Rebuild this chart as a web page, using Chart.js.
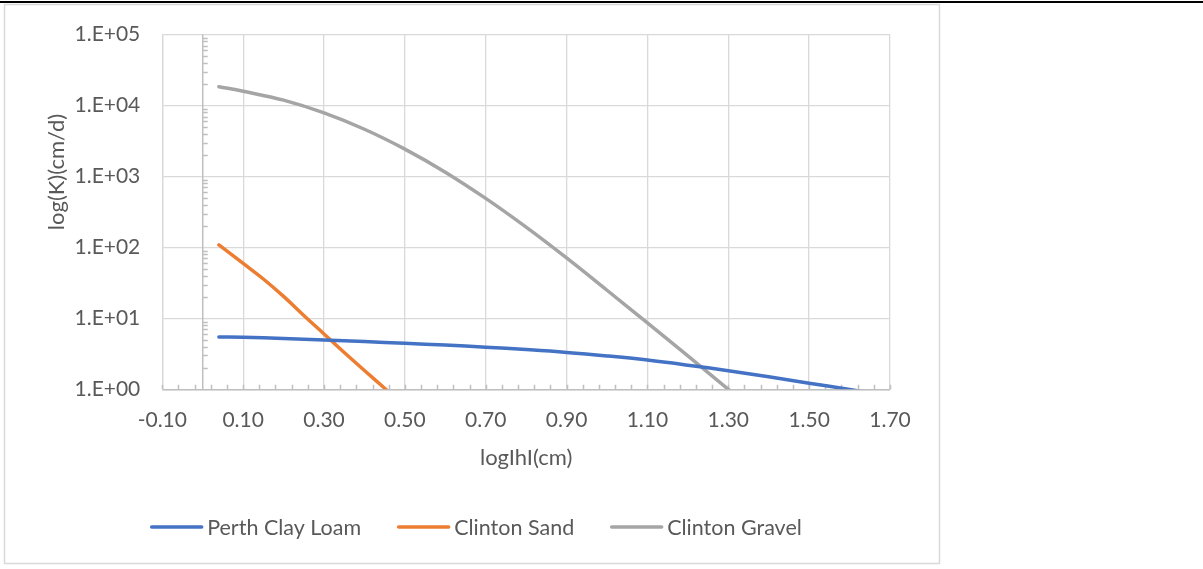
<!DOCTYPE html>
<html>
<head>
<meta charset="utf-8">
<title>Hydraulic conductivity vs. suction head</title>
<script src="https://cdn.jsdelivr.net/npm/chart.js@4.4.1/dist/chart.umd.min.js"></script>
<style>
  html, body { margin: 0; padding: 0; background: #ffffff; }
  #wrap { position: relative; width: 1203px; height: 569px; }
  canvas { display: block; }
</style>
</head>
<body>
<div id="wrap"><canvas id="chart" width="1203" height="569"></canvas></div>
<script>
// Axis tick values
const xTicks = [-0.10, 0.10, 0.30, 0.50, 0.70, 0.90, 1.10, 1.30, 1.50, 1.70];
const yTicks = [1, 10, 100, 1000, 10000, 100000];

// Perth Clay Loam: log|h| (cm) and K (cm/d)
const perthX = [0.04, 0.10, 0.20, 0.30, 0.40, 0.50, 0.60, 0.70, 0.80, 0.90, 1.00, 1.10, 1.20, 1.30, 1.40, 1.50, 1.60, 1.66];
const perthK = [5.46, 5.41, 5.19, 4.94, 4.70, 4.46, 4.20, 3.93, 3.63, 3.31, 2.95, 2.58, 2.19, 1.83, 1.50, 1.22, 0.995, 0.87];

// Clinton Sand
const sandX = [0.04, 0.10, 0.15, 0.20, 0.25, 0.30, 0.35, 0.40, 0.45, 0.50];
const sandK = [108.4, 59.6, 35.9, 20.4, 11.0, 6.03, 3.31, 1.84, 1.035, 0.58];

// Clinton Gravel
const gravelX = [0.04, 0.10, 0.20, 0.30, 0.40, 0.50, 0.60, 0.70, 0.80, 0.90, 1.00, 1.10, 1.20, 1.30, 1.35];
const gravelK = [18450, 15890, 11910, 7870, 4634, 2432, 1151, 491, 193, 71.0, 24.9, 8.63, 2.96, 1.0, 0.58];

const seriesNames = ['Perth Clay Loam', 'Clinton Sand', 'Clinton Gravel'];
const seriesColors = ['#4472C4', '#ED7D31', '#A5A5A5'];
const xTitle = 'logIhI(cm)';
const yTitle = 'log(K)(cm/d)';

const TEXT = '#595959';
const GRID = '#d9d9d9';
const AXIS = '#bfbfbf';
const FONT = 'Lato, "Open Sans", sans-serif';

Chart.defaults.font.family = FONT;
Chart.defaults.font.size = 21;
Chart.defaults.color = TEXT;

const pts = (xs, ys) => xs.map((x, i) => ({ x: x, y: ys[i] }));

function sci(v) {
  const e = Math.round(Math.log10(v));
  const m = v / Math.pow(10, e);
  const sign = e < 0 ? '-' : '+';
  return Math.round(m) + '.E' + sign + String(Math.abs(e)).padStart(2, '0');
}

// White page, dark rule along the top and the light chart frame
const framePlugin = {
  id: 'frame',
  beforeDraw(chart) {
    const c = chart.ctx;
    c.save();
    c.fillStyle = '#ffffff';
    c.fillRect(0, 0, chart.width, chart.height);
    c.fillStyle = '#000000';
    c.fillRect(0, 1, chart.width, 2);
    c.strokeStyle = GRID;
    c.lineWidth = 1.5;
    c.strokeRect(4.5, 4.5, 935, 559);
    c.restore();
  }
};

// Vertical axis crossing at x = 0, plus minor tick marks on both axes
const axisMarksPlugin = {
  id: 'axisMarks',
  beforeDatasetsDraw(chart) {
    const c = chart.ctx;
    const xs = chart.scales.x, ys = chart.scales.y;
    const x0 = xs.getPixelForValue(0);
    c.save();
    c.strokeStyle = AXIS;
    c.lineWidth = 1.5;
    c.beginPath();
    c.moveTo(x0, ys.top);
    c.lineTo(x0, ys.bottom);
    // log minor ticks on the vertical axis
    for (let k = 0; k < 5; k++) {
      for (let m = 2; m <= 9; m++) {
        const py = Math.round(ys.getPixelForValue(m * Math.pow(10, k))) + 0.5;
        c.moveTo(x0, py);
        c.lineTo(x0 + 5, py);
      }
    }
    // minor ticks along the horizontal axis
    const step = 0.04;
    for (let i = 0; ; i++) {
      const v = xs.min + i * step;
      if (v > xs.max + 1e-9) break;
      const px = Math.round(xs.getPixelForValue(v)) + 0.5;
      c.moveTo(px, ys.bottom);
      c.lineTo(px, ys.bottom - 4.5);
    }
    c.stroke();
    c.restore();
  }
};

// Axis titles
const axisTitlePlugin = {
  id: 'axisTitles',
  afterDraw(chart) {
    const c = chart.ctx;
    const xs = chart.scales.x;
    c.save();
    c.fillStyle = TEXT;
    c.font = '22px ' + FONT;
    c.textAlign = 'center';
    c.textBaseline = 'middle';
    c.fillText(xTitle, (xs.left + xs.right) / 2, 458);
    c.translate(57, 172);
    c.rotate(-Math.PI / 2);
    c.fillText(yTitle, 0, 0);
    c.restore();
  }
};

// Legend row centred under the chart frame
const legendPlugin = {
  id: 'bottomLegend',
  afterDraw(chart) {
    const c = chart.ctx;
    const sets = chart.data.datasets;
    const lineLen = 53, gap = 4, itemGap = 36, cy = 527, cx = 476;
    c.save();
    c.font = '21.5px ' + FONT;
    c.textBaseline = 'middle';
    c.textAlign = 'left';
    const widths = sets.map(d => c.measureText(d.label).width);
    let total = widths.reduce((a, w) => a + lineLen + gap + w, 0) + itemGap * (sets.length - 1);
    let x = cx - total / 2;
    sets.forEach((d, i) => {
      c.strokeStyle = d.borderColor;
      c.lineWidth = 3.5;
      c.lineCap = 'round';
      c.beginPath();
      c.moveTo(x + 1.5, cy);
      c.lineTo(x + lineLen - 1.5, cy);
      c.stroke();
      c.fillStyle = TEXT;
      c.fillText(d.label, x + lineLen + gap, cy + 1);
      x += lineLen + gap + widths[i] + itemGap;
    });
    c.restore();
  }
};

const ctx = document.getElementById('chart').getContext('2d');
new Chart(ctx, {
  type: 'line',
  data: {
    datasets: [
      { label: seriesNames[0], data: pts(perthX, perthK), borderColor: seriesColors[0], backgroundColor: seriesColors[0] },
      { label: seriesNames[1], data: pts(sandX, sandK), borderColor: seriesColors[1], backgroundColor: seriesColors[1] },
      { label: seriesNames[2], data: pts(gravelX, gravelK), borderColor: seriesColors[2], backgroundColor: seriesColors[2] }
    ]
  },
  options: {
    responsive: false,
    animation: false,
    layout: { padding: { left: 0, top: 32.3, right: 313, bottom: 0 } },
    elements: {
      point: { radius: 0, hoverRadius: 0 },
      line: { borderWidth: 3.5, tension: 0.4, borderCapStyle: 'round', fill: false }
    },
    plugins: { legend: { display: false }, tooltip: { enabled: false } },
    scales: {
      x: {
        type: 'linear',
        min: -0.1,
        max: 1.7,
        afterBuildTicks: s => { s.ticks = xTicks.map(v => ({ value: v })); },
        afterFit: s => { s.height = 569 - 389.3; },
        ticks: { padding: 18, color: TEXT, font: { size: 21 }, maxRotation: 0, callback: v => Number(v).toFixed(2) },
        grid: { color: GRID, lineWidth: 1.3, drawTicks: false },
        border: { color: AXIS, width: 1.5 },
        title: { display: false }
      },
      y: {
        type: 'logarithmic',
        min: 1,
        max: 100000,
        afterBuildTicks: s => { s.ticks = yTicks.map(v => ({ value: v })); },
        afterFit: s => { s.width = 162.3; },
        ticks: { padding: 22, color: TEXT, font: { size: 21 }, callback: v => sci(v) },
        grid: { color: GRID, lineWidth: 1.3, drawTicks: false },
        border: { color: GRID, width: 1.3 },
        title: { display: false }
      }
    }
  },
  plugins: [framePlugin, axisMarksPlugin, axisTitlePlugin, legendPlugin]
});
</script>
</body>
</html>
